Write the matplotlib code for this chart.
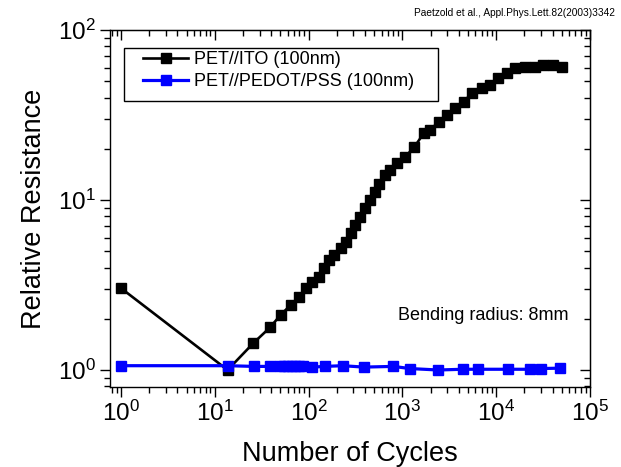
#!/usr/bin/env python3

import matplotlib

matplotlib.use("Agg")
from matplotlib import pyplot as plt
from matplotlib.patches import Rectangle

out_filename = "out.png"

# PET//ITO (100nm)
ito_cycles = [
    1, 13.7, 25.8, 38.8, 50.4, 64.4, 78.8, 92.9, 109, 129, 146, 164, 186,
    219, 248, 280, 316, 357, 404, 457, 516, 560, 659, 745, 879, 1077, 1342,
    1687, 1986, 2434, 2990, 3665, 4490, 5510, 7040, 8630, 10580, 13000,
    15900, 20400, 26000, 31900, 40700, 50000,
]
ito_resistance = [
    3.03, 1.0, 1.44, 1.78, 2.11, 2.41, 2.69, 3.03, 3.31, 3.54, 3.96, 4.44,
    4.75, 5.20, 5.69, 6.37, 7.13, 7.98, 8.94, 10.0, 11.2, 12.5, 14.0, 15.0,
    16.4, 18.0, 20.5, 24.7, 25.8, 28.9, 31.6, 34.6, 37.9, 42.4, 45.4, 47.4,
    51.9, 55.6, 59.5, 60.8, 60.8, 62.2, 62.2, 60.8,
]

# PET//PEDOT/PSS (100nm)
pedot_cycles = [
    1, 13.7, 26, 39, 50, 55, 60, 66, 72, 80, 88, 109, 150, 230, 390, 800,
    1200, 2400, 4400, 6400, 13500, 23000, 30000, 48000,
]
pedot_resistance = [
    1.06, 1.06, 1.05, 1.05, 1.06, 1.06, 1.06, 1.06, 1.06, 1.06, 1.06, 1.04,
    1.05, 1.06, 1.04, 1.05, 1.02, 1.0, 1.01, 1.01, 1.01, 1.01, 1.02, 1.025,
]

x_ticks = [1, 10, 100, 1000, 10000, 100000]
x_tick_labels = [r"$\mathregular{10^{%d}}$" % i for i in range(6)]
y_ticks = [1, 10, 100]
y_tick_labels = [r"$\mathregular{10^{%d}}$" % i for i in range(3)]


def main():
    plt.rcParams["font.family"] = ["Liberation Sans", "DejaVu Sans"]
    plt.rcParams["mathtext.fontset"] = "custom"
    plt.rcParams["mathtext.rm"] = "Liberation Sans"

    fig = plt.figure(figsize=(6.21, 4.67), dpi=100)
    ax = fig.add_axes([110 / 621, 1 - 387 / 467, 480 / 621, 357 / 467])

    ax.plot(
        ito_cycles,
        ito_resistance,
        color="k",
        linewidth=1.9,
        marker="s",
        markersize=7.0,
        label="PET//ITO (100nm)",
    )
    ax.plot(
        pedot_cycles,
        pedot_resistance,
        color="#0000ff",
        linewidth=2.3,
        marker="s",
        markersize=7.0,
        label="PET//PEDOT/PSS (100nm)",
    )

    ax.set_xscale("log")
    ax.set_yscale("log")
    ax.set_xlim(10 ** -0.117, 1e5)
    ax.set_ylim(10 ** -0.1, 100)

    ax.set_xticks(x_ticks, x_tick_labels)
    ax.set_yticks(y_ticks, y_tick_labels)
    ax.tick_params(which="major", direction="out", length=7, width=1,
                   labelsize=17.5, pad=3)
    ax.tick_params(which="minor", direction="out", length=4, width=1)

    top = ax.secondary_xaxis("top")
    top.tick_params(which="major", direction="in", length=7, width=1,
                    labeltop=False)
    top.tick_params(which="minor", direction="in", length=4, width=1)
    top.set_xticks(x_ticks)
    right = ax.secondary_yaxis("right")
    right.tick_params(which="major", direction="in", length=7, width=1,
                      labelright=False)
    right.tick_params(which="minor", direction="in", length=4, width=1)
    right.set_yticks(y_ticks)

    for spine in ax.spines.values():
        spine.set_linewidth(1)

    ax.set_xlabel("Number of Cycles", fontsize=19.5, labelpad=11)
    ax.set_ylabel("Relative Resistance", fontsize=19.5, labelpad=8)

    ax.add_patch(
        Rectangle(
            ((124 - 110) / 480, (387 - 101) / 357),
            (438 - 124) / 480,
            53 / 357,
            transform=ax.transAxes,
            facecolor="none",
            edgecolor="k",
            linewidth=1,
            zorder=5,
        )
    )
    ax.legend(
        loc="upper left",
        bbox_to_anchor=((143 - 110) / 480, (387 - 51) / 357),
        borderaxespad=0,
        borderpad=0,
        frameon=False,
        fontsize=13,
        handlelength=2.5,
        handletextpad=0.3,
        labelspacing=0.3,
    )

    ax.text(
        0.955,
        0.2,
        "Bending radius: 8mm",
        transform=ax.transAxes,
        ha="right",
        va="center",
        fontsize=13,
    )
    fig.text(
        0.99,
        0.972,
        "Paetzold et al., Appl.Phys.Lett.82(2003)3342",
        ha="right",
        va="center",
        fontsize=7.3,
    )

    fig.savefig(out_filename, dpi=100)


if __name__ == "__main__":
    main()
